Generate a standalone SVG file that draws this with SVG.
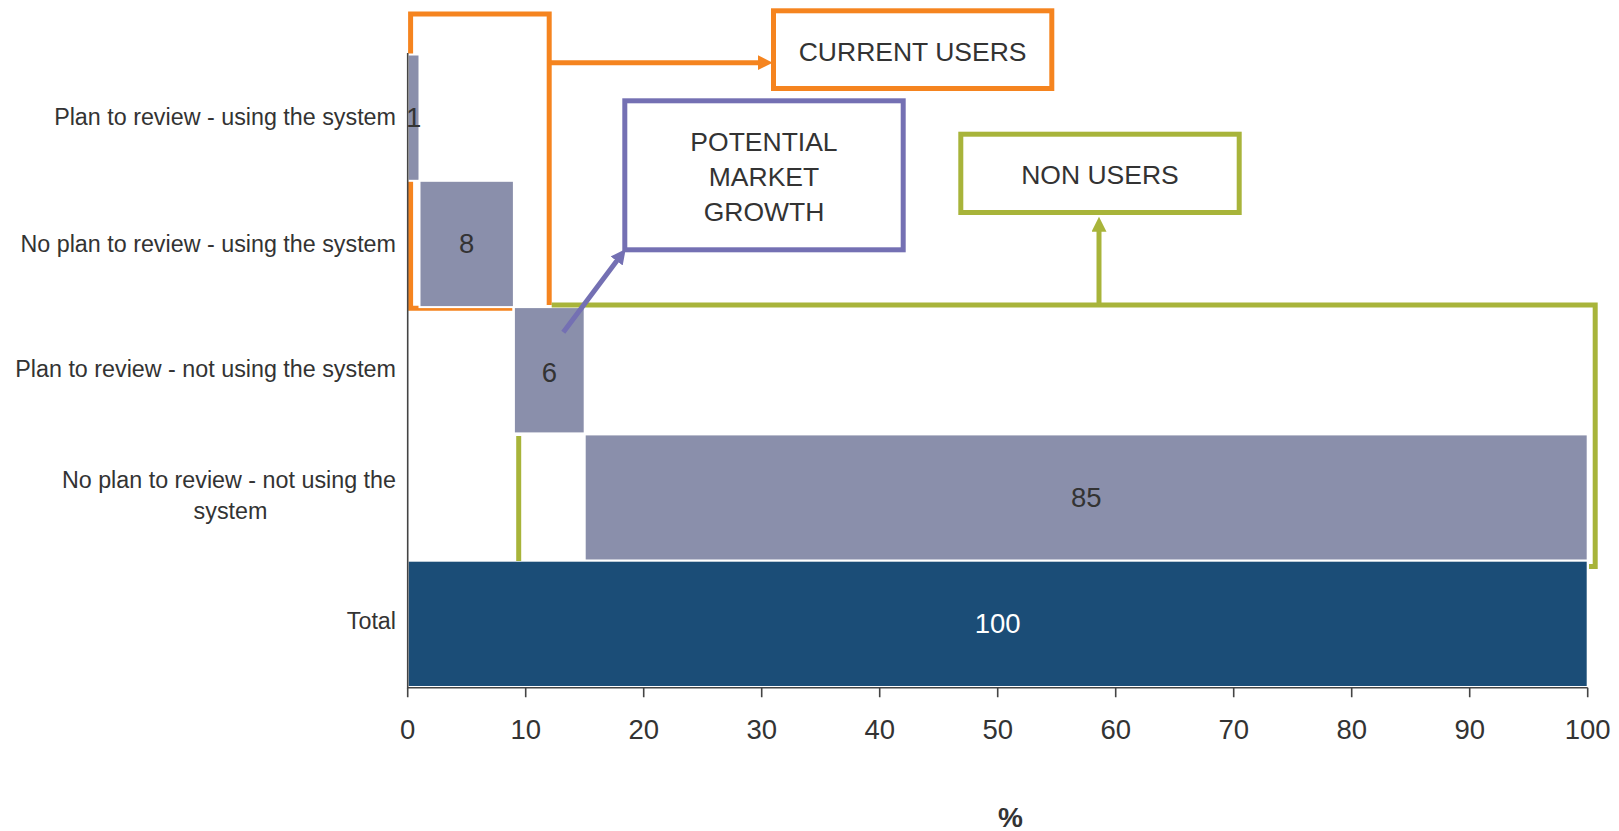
<svg xmlns="http://www.w3.org/2000/svg" width="1619" height="831" viewBox="0 0 1619 831">
<style>
text{font-family:"Liberation Sans",Arial,sans-serif;fill:#333}
.cat{font-size:23.3px;text-anchor:end}
.num{font-size:27.5px;text-anchor:middle}
.tick{font-size:27.5px;text-anchor:middle}
.box{font-size:26.5px;text-anchor:middle}
.bar{fill:#8a8fab;stroke:#fff;stroke-width:2}
.tot{fill:#1b4d77;stroke:#fff;stroke-width:2}
.ax{stroke:#444;stroke-width:1.6;fill:none}
.or{stroke:#f5841f;stroke-width:5;fill:none}
.ol{stroke:#a8b43a;stroke-width:5;fill:none}
.pu{stroke:#7470b3;stroke-width:5;fill:none}
</style>
<defs>
<marker id="aOr" markerUnits="userSpaceOnUse" markerWidth="16" markerHeight="16" refX="5" refY="7.5" orient="auto"><path d="M0,0 L15,7.5 L0,15 z" fill="#f5841f"/></marker>
<marker id="aOl" markerUnits="userSpaceOnUse" markerWidth="16" markerHeight="16" refX="5" refY="7.5" orient="auto"><path d="M0,0 L15,7.5 L0,15 z" fill="#a8b43a"/></marker>
<marker id="aPu" markerUnits="userSpaceOnUse" markerWidth="16" markerHeight="16" refX="5" refY="7.5" orient="auto"><path d="M0,0 L15,7.5 L0,15 z" fill="#7470b3"/></marker>
</defs>
<rect width="1619" height="831" fill="#fff"/>
<g id="connectors-back">
<path class="or" d="M512.3,308.3 H410.6 V13.9 H549.2 V305"/>
</g>
<g id="bars">
<g id="bar-plan-using"><rect class="bar" x="407.7" y="54.5" width="11.8" height="126.3"/><text class="num" x="413.6" y="127.3">1</text></g>
<g id="bar-noplan-using"><rect class="bar" x="419.5" y="180.8" width="94.4" height="126.3"/><text class="num" x="466.7" y="253.3">8</text></g>
<g id="bar-plan-notusing"><rect class="bar" x="513.9" y="307.1" width="70.8" height="126.3"/><text class="num" x="549.3" y="382">6</text></g>
<g id="bar-noplan-notusing"><rect class="bar" x="584.7" y="434.4" width="1003" height="126.3"/><text class="num" x="1086.2" y="507">85</text></g>
<g id="bar-total"><rect class="tot" x="407.7" y="560.7" width="1180" height="126.3"/><text class="num" x="997.7" y="633" style="fill:#fff">100</text></g>
</g>
<g id="axes">
<path class="ax" d="M407.7,53 V687.7 H1587.7"/>
<path class="ax" d="M407.7,687.7 v9.5 M525.7,687.7 v9.5 M643.7,687.7 v9.5 M761.7,687.7 v9.5 M879.7,687.7 v9.5 M997.7,687.7 v9.5 M1115.7,687.7 v9.5 M1233.7,687.7 v9.5 M1351.7,687.7 v9.5 M1469.7,687.7 v9.5 M1587.7,687.7 v9.5"/>
<text class="tick" x="407.7" y="739.3">0</text>
<text class="tick" x="525.7" y="739.3">10</text>
<text class="tick" x="643.7" y="739.3">20</text>
<text class="tick" x="761.7" y="739.3">30</text>
<text class="tick" x="879.7" y="739.3">40</text>
<text class="tick" x="997.7" y="739.3">50</text>
<text class="tick" x="1115.7" y="739.3">60</text>
<text class="tick" x="1233.7" y="739.3">70</text>
<text class="tick" x="1351.7" y="739.3">80</text>
<text class="tick" x="1469.7" y="739.3">90</text>
<text class="tick" x="1587.7" y="739.3">100</text>
<text x="1010.5" y="827" style="font-size:28px;font-weight:bold;text-anchor:middle">%</text>
<text class="cat" x="396" y="125">Plan to review - using the system</text>
<text class="cat" x="396" y="252.3">No plan to review - using the system</text>
<text class="cat" x="396" y="377.3">Plan to review - not using the system</text>
<text class="cat" x="396" y="487.7">No plan to review - not using the</text>
<text class="cat" x="230.5" y="519.3" style="text-anchor:middle">system</text>
<text class="cat" x="396" y="629.3">Total</text>
</g>
<g id="connectors">
<path class="or" d="M549.2,62.7 H762.7" marker-end="url(#aOr)"/>
<path class="ol" d="M551.7,305 H1595.2 V566.5 H1589"/>
<path class="ol" d="M518.7,436 V561"/>
<path class="ol" d="M1099,305 V226.7" marker-end="url(#aOl)"/>
<path class="pu" d="M563.3,332.3 L619.7,257" marker-end="url(#aPu)"/>
</g>
<g id="current-users">
<rect x="773.5" y="10.8" width="278.3" height="77.7" fill="#fff" class="or"/>
<text class="box" x="912.6" y="61">CURRENT USERS</text>
</g>
<g id="potential-market-growth">
<rect x="624.8" y="100.8" width="278.4" height="149" fill="#fff" class="pu"/>
<text class="box" x="764" y="150.8">POTENTIAL</text>
<text class="box" x="764" y="185.7">MARKET</text>
<text class="box" x="764" y="221">GROWTH</text>
</g>
<g id="non-users">
<rect x="960.8" y="134.2" width="278.4" height="78.3" fill="#fff" class="ol"/>
<text class="box" x="1100" y="184.3">NON USERS</text>
</g>
</svg>
